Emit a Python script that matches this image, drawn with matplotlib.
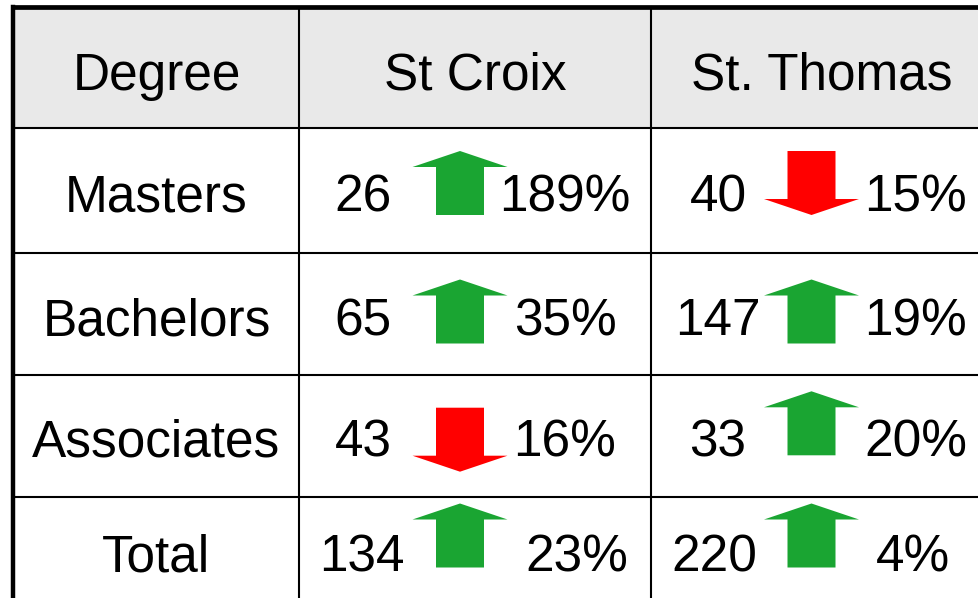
import matplotlib
matplotlib.use("Agg")
import matplotlib.pyplot as plt
from matplotlib.patches import Polygon, Rectangle

# ---- data ----
header_first = "Degree"
locations = ["St Croix", "St. Thomas"]
degrees = ["Masters", "Bachelors", "Associates", "Total"]
st_croix_counts = [26, 65, 43, 134]
st_croix_pct = [189, 35, 16, 23]
st_croix_dir = ["up", "up", "down", "up"]
st_thomas_counts = [40, 147, 33, 220]
st_thomas_pct = [15, 19, 20, 4]
st_thomas_dir = ["down", "up", "up", "up"]

# ---- layout (pixel coordinates, y downward) ----
W, H = 979, 598
col_edges = [13.5, 299.5, 651.5, 993]
row_edges = [6.8, 128, 253, 375, 497, 640]
baselines = [90, 212, 335, 456.5, 571]
num_x = [[363, 363, 363, 362], [718, 718, 718, 714]]
pct_x = [[565, 565, 565, 577], [916, 916, 916, 913]]
arrow_cx = [460, 811.5]
arrow_top = [[151, 279.5, 407.7, 503.5], [151, 279.5, 391.3, 503.5]]
ARW_W, SHAFT_W, ARW_H, HEAD_H = 95, 48, 64, 16
GREEN, RED = "#1AA532", "#FF0000"
FONT = "Liberation Sans"
FS = 37

fig = plt.figure(figsize=(W / 100, H / 100), dpi=100)
ax = fig.add_axes([0, 0, 1, 1])
ax.set_xlim(0, W)
ax.set_ylim(H, 0)
ax.axis("off")

# header background
ax.add_patch(Rectangle((col_edges[0], row_edges[0]), col_edges[-1] - col_edges[0],
                       row_edges[1] - row_edges[0], facecolor="#E9E9E9", edgecolor="none", zorder=0))

# inner grid lines
for y in row_edges[1:-1]:
    ax.plot([col_edges[0], col_edges[-1]], [y, y], color="black", lw=1.5, zorder=2)
for x in col_edges[1:-1]:
    ax.plot([x, x], [row_edges[0], row_edges[-1]], color="black", lw=1.5, zorder=2)
# outer border
ax.plot([col_edges[0], col_edges[-1]], [row_edges[0], row_edges[0]], color="black", lw=3.4,
        zorder=3, solid_capstyle="projecting")
ax.plot([col_edges[0], col_edges[0]], [row_edges[0], row_edges[-1]], color="black", lw=3.2,
        zorder=3, solid_capstyle="projecting")

def cx(i):
    return (col_edges[i] + col_edges[i + 1]) / 2

# header texts
ax.text(cx(0), baselines[0], header_first, ha="center", va="baseline", fontsize=FS, family=FONT)
for j, loc in enumerate(locations):
    ax.text(cx(j + 1) if j == 0 else 822, baselines[0], loc, ha="center", va="baseline",
            fontsize=FS, family=FONT)

def arrow(xc, top, direction):
    hw, sw = ARW_W / 2, SHAFT_W / 2
    if direction == "up":
        pts = [(xc, top), (xc + hw, top + HEAD_H), (xc + sw, top + HEAD_H),
               (xc + sw, top + ARW_H), (xc - sw, top + ARW_H), (xc - sw, top + HEAD_H),
               (xc - hw, top + HEAD_H)]
        col = GREEN
    else:
        bot = top + ARW_H
        pts = [(xc, bot), (xc + hw, bot - HEAD_H), (xc + sw, bot - HEAD_H),
               (xc + sw, top), (xc - sw, top), (xc - sw, bot - HEAD_H),
               (xc - hw, bot - HEAD_H)]
        col = RED
    ax.add_patch(Polygon(pts, closed=True, facecolor=col, edgecolor="none", zorder=4))

series = [(st_croix_counts, st_croix_pct, st_croix_dir),
          (st_thomas_counts, st_thomas_pct, st_thomas_dir)]
for i, deg in enumerate(degrees):
    b = baselines[i + 1]
    ax.text(cx(0), b, deg, ha="center", va="baseline", fontsize=FS, family=FONT)
    for j, (counts, pcts, dirs) in enumerate(series):
        ax.text(num_x[j][i], b, f"{counts[i]}", ha="center", va="baseline", fontsize=FS,
                family=FONT, zorder=5)
        ax.text(pct_x[j][i], b, f"{pcts[i]}%", ha="center", va="baseline", fontsize=FS,
                family=FONT, zorder=5)
        arrow(arrow_cx[j], arrow_top[j][i], dirs[i])

fig.savefig("out.png", dpi=100)
